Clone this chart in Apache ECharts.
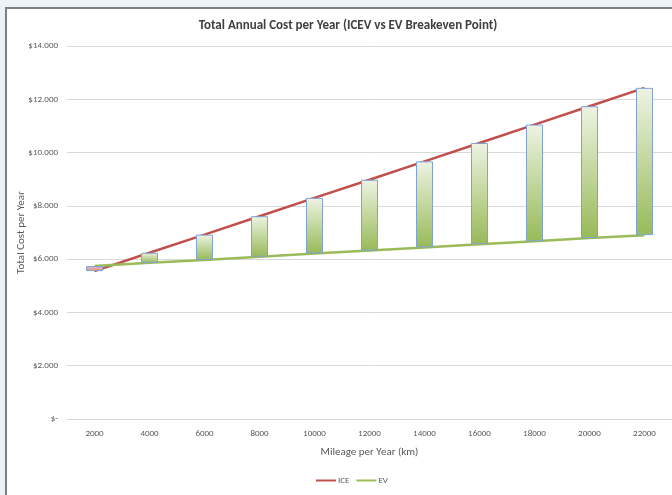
<!DOCTYPE html>
<html>
<head>
<meta charset="utf-8">
<script src="https://cdn.jsdelivr.net/npm/echarts@6/dist/echarts.min.js"></script>
<style>
  html, body { margin: 0; padding: 0; background: #edf2f7; }
  #frame { position: absolute; left: 5px; top: 7px; width: 680px; height: 500px;
           background: #ffffff; border-left: 2px solid #7f7f7f; border-top: 2px solid #7f7f7f; }
  #chart { position: absolute; left: 0; top: 0; width: 672px; height: 495px; }
</style>
</head>
<body>
<div id="frame"></div>
<div id="chart"></div>
<script>
// Annual mileage categories (km)
const mileage = ['2000', '4000', '6000', '8000', '10000', '12000', '14000', '16000', '18000', '20000', '22000'];
// Total annual cost of the combustion car (ICE) and the electric car (EV)
const iceCost = [5550, 6240, 6920, 7610, 8300, 8980, 9670, 10360, 11050, 11740, 12430];
const evCost  = [5740, 5860, 5970, 6090, 6210, 6320, 6440, 6560, 6670, 6790, 6900];
// Y axis ticks
const yMin = 0, yMax = 14000, yStep = 2000;

const FONT = "Carlito, 'Liberation Sans Narrow', 'Open Sans', sans-serif";

// Floating up/down bars between the two lines: invisible base + visible gap
const barBase = mileage.map((_, i) => Math.min(iceCost[i], evCost[i]));
const barGap = mileage.map((_, i) => {
  const up = iceCost[i] >= evCost[i];
  return {
    value: Math.abs(iceCost[i] - evCost[i]),
    itemStyle: {
      color: new echarts.graphic.LinearGradient(0, 0, 0, 1, up
        ? [{ offset: 0, color: '#eef3e3' }, { offset: 1, color: '#98ba58' }]
        : [{ offset: 0, color: '#f2bcbc' }, { offset: 1, color: '#dc8f8f' }]),
      borderColor: '#7fa3d6',
      borderWidth: 1
    }
  };
});

const chart = echarts.init(document.getElementById('chart'), null, { renderer: 'canvas' });
chart.setOption({
  backgroundColor: 'transparent',
  animation: false,
  textStyle: { fontFamily: FONT },
  title: {
    text: 'Total Annual Cost per Year (ICEV vs EV Breakeven Point)',
    left: 343, top: 14, textAlign: 'center',
    textStyle: { fontFamily: FONT, fontSize: 13, fontWeight: 'bold', color: '#404040' }
  },
  legend: {
    data: ['ICE', 'EV'],
    bottom: 5, left: 311,
    icon: 'rect', itemWidth: 20, itemHeight: 2, itemGap: 7,
    textStyle: { fontFamily: FONT, fontSize: 9, color: '#595959', padding: [0, 0, 0, -3] }
  },
  grid: { left: 67, right: 0, top: 46, bottom: 76, containLabel: false },
  xAxis: {
    type: 'category',
    data: mileage,
    name: 'Mileage per Year (km)',
    nameLocation: 'middle', nameGap: 28,
    nameTextStyle: { fontFamily: FONT, fontSize: 11, color: '#595959' },
    axisLine: { lineStyle: { color: '#d9d9d9', width: 1 } },
    axisTick: { show: false },
    axisLabel: { fontFamily: FONT, fontSize: 9, color: '#595959', margin: 10 }
  },
  yAxis: {
    type: 'value', min: yMin, max: yMax, interval: yStep,
    name: 'Total Cost per Year',
    nameLocation: 'middle', nameGap: 40, nameMoveOverlap: false,
    nameTextStyle: { fontFamily: FONT, fontSize: 11, color: '#595959' },
    axisLine: { show: false },
    axisTick: { show: false },
    splitLine: { lineStyle: { color: '#d9d9d9', width: 1 } },
    axisLabel: {
      fontFamily: FONT, fontSize: 9, color: '#595959', margin: 9,
      formatter: v => v === 0 ? '$-' : '$' + (v / 1000) + '.000'
    }
  },
  series: [
    {
      name: 'ICE', type: 'line', data: iceCost, symbol: 'none', z: 2,
      lineStyle: { color: '#c0504d', width: 2.5 }, itemStyle: { color: '#c0504d' }
    },
    {
      name: 'EV', type: 'line', data: evCost, symbol: 'none', z: 2,
      lineStyle: { color: '#9bbb59', width: 2.5 }, itemStyle: { color: '#9bbb59' }
    },
    {
      name: 'base', type: 'bar', stack: 'gap', data: barBase, barWidth: 17, z: 3,
      itemStyle: { color: 'transparent' }, silent: true
    },
    {
      name: 'gap', type: 'bar', stack: 'gap', data: barGap, barWidth: 17, z: 3
    }
  ]
});
</script>
</body>
</html>
